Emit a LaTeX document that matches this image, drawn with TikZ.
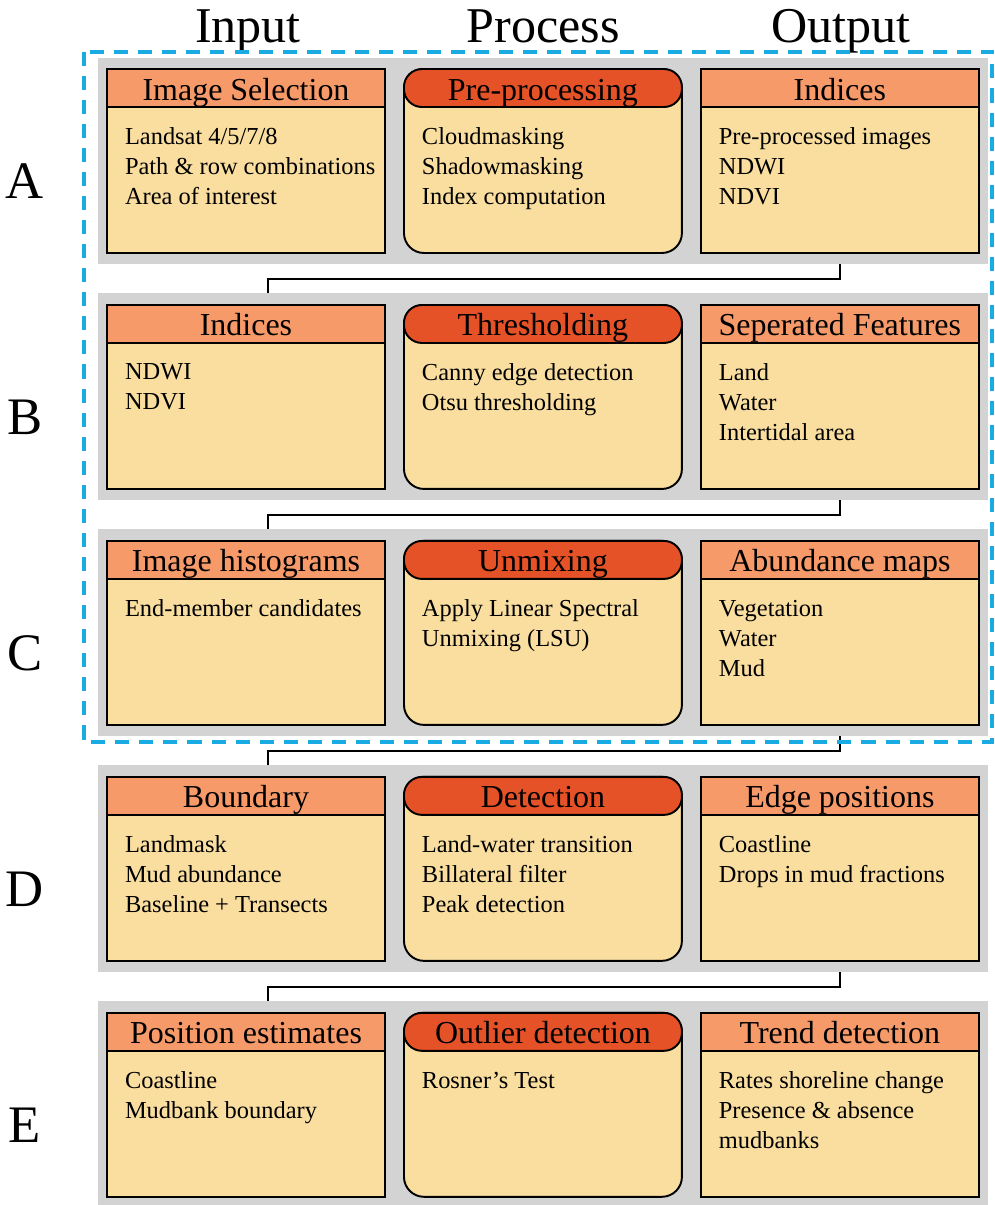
\documentclass[tikz,border=0pt]{standalone}
\usepackage{fontspec}
\setmainfont{Liberation Serif}
\usepackage{tikz}
\usetikzlibrary{positioning}
\usetikzlibrary{fit}
\usetikzlibrary{calc}
\usetikzlibrary{backgrounds}

\definecolor{panelgray}{HTML}{D3D3D3}
\definecolor{cardfill}{HTML}{F9DE9F}
\definecolor{headlight}{HTML}{F79A6A}
\definecolor{headdark}{HTML}{E65228}
\definecolor{frameblue}{HTML}{1AABE3}

\tikzset{
	card/.style={draw, line width=1.1pt, fill=cardfill, minimum width=5.56cm,
		minimum height=3.68cm, inner sep=0pt, outer sep=0pt},
	proccard/.style={card, rounded corners=0.4cm},
	head/.style={draw, line width=1.1pt, fill=headlight, minimum width=5.56cm,
		minimum height=0.76cm, inner sep=0pt, outer sep=0pt,
		text height=0.48cm, text depth=0pt,
		font=\fontsize{18.2pt}{22pt}\selectfont},
	prochead/.style={head, fill=headdark, rounded corners=0.36cm},
	items/.style={align=left, inner sep=0pt, outer sep=0pt,
		font=\fontsize{13.9pt}{17.07pt}\selectfont},
	panel/.style={fill=panelgray, inner xsep=0.18cm, inner ysep=0.23cm, outer sep=0pt},
	link/.style={line width=1pt},
	coltitle/.style={anchor=base, font=\fontsize{28.5pt}{34pt}\selectfont},
	rowtitle/.style={font=\fontsize{30pt}{36pt}\selectfont},
	bluebox/.style={frameblue, line width=2.3pt, dash pattern=on 8pt off 5.7pt}
}

\begin{document}
\begin{tikzpicture}[x=0.02cm, y=-0.02cm,
						node distance={1.04cm and 0.38cm}]
		\useasboundingbox (0,0) rectangle (995,1205);

		\node [coltitle] (input) at (248,42) {Input};
		\node [coltitle] (process) at (543,42) {Process};
		\node [coltitle] (output) at (841,42) {Output};

		\node [card] (inA) at (246,161) {};
		\node [proccard, right=of inA] (procA) {};
		\node [card, right=of procA] (outA) {};
		\node [card, below=of inA] (inB) {};
		\node [proccard, right=of inB] (procB) {};
		\node [card, right=of procB] (outB) {};
		\node [card, below=of inB] (inC) {};
		\node [proccard, right=of inC] (procC) {};
		\node [card, right=of procC] (outC) {};
		\node [card, below=of inC] (inD) {};
		\node [proccard, right=of inD] (procD) {};
		\node [card, right=of procD] (outD) {};
		\node [card, below=of inD] (inE) {};
		\node [proccard, right=of inE] (procE) {};
		\node [card, right=of procE] (outE) {};

		\node [head, below=0pt of inA.north] (inAhead) {Image Selection};
		\node [prochead, below=0pt of procA.north] (procAhead) {Pre-processing};
		\node [head, below=0pt of outA.north] (outAhead) {Indices};
		\node [head, below=0pt of inB.north] (inBhead) {Indices};
		\node [prochead, below=0pt of procB.north] (procBhead) {Thresholding};
		\node [head, below=0pt of outB.north] (outBhead) {Seperated Features};
		\node [head, below=0pt of inC.north] (inChead) {Image histograms};
		\node [prochead, below=0pt of procC.north] (procChead) {Unmixing};
		\node [head, below=0pt of outC.north] (outChead) {Abundance maps};
		\node [head, below=0pt of inD.north] (inDhead) {Boundary};
		\node [prochead, below=0pt of procD.north] (procDhead) {Detection};
		\node [head, below=0pt of outD.north] (outDhead) {Edge positions};
		\node [head, below=0pt of inE.north] (inEhead) {Position estimates};
		\node [prochead, below=0pt of procE.north] (procEhead) {Outlier detection};
		\node [head, below=0pt of outE.north] (outEhead) {Trend detection};

		\node [items, below right=1.18cm and 0.36cm of inA.north west] (inAtext)
			{Landsat 4/5/7/8\\Path \& row combinations\\Area of interest};
		\node [items, below right=1.18cm and 0.36cm of procA.north west] (procAtext)
			{Cloudmasking\\Shadowmasking\\Index computation};
		\node [items, below right=1.18cm and 0.36cm of outA.north west] (outAtext)
			{Pre-processed images\\NDWI\\NDVI};
		\node [items, below right=1.18cm and 0.36cm of inB.north west] (inBtext)
			{NDWI\\NDVI};
		\node [items, below right=1.18cm and 0.36cm of procB.north west] (procBtext)
			{Canny edge detection\\Otsu thresholding};
		\node [items, below right=1.18cm and 0.36cm of outB.north west] (outBtext)
			{Land\\Water\\Intertidal area};
		\node [items, below right=1.18cm and 0.36cm of inC.north west] (inCtext)
			{End-member candidates};
		\node [items, below right=1.18cm and 0.36cm of procC.north west] (procCtext)
			{Apply Linear Spectral\\Unmixing (LSU)};
		\node [items, below right=1.18cm and 0.36cm of outC.north west] (outCtext)
			{Vegetation\\Water\\Mud};
		\node [items, below right=1.18cm and 0.36cm of inD.north west] (inDtext)
			{Landmask\\Mud abundance\\Baseline + Transects};
		\node [items, below right=1.18cm and 0.36cm of procD.north west] (procDtext)
			{Land-water transition\\Billateral filter\\Peak detection};
		\node [items, below right=1.18cm and 0.36cm of outD.north west] (outDtext)
			{Coastline\\Drops in mud fractions};
		\node [items, below right=1.18cm and 0.36cm of inE.north west] (inEtext)
			{Coastline\\Mudbank boundary};
		\node [items, below right=1.18cm and 0.36cm of procE.north west] (procEtext)
			{Rosner's Test};
		\node [items, below right=1.18cm and 0.36cm of outE.north west] (outEtext)
			{Rates shoreline change\\Presence \& absence\\mudbanks};

		\begin{scope}[on background layer]
			\node [panel, fit=(inA) (outA)] (rowA) {};
			\node [panel, fit=(inB) (outB)] (rowB) {};
			\node [panel, fit=(inC) (outC)] (rowC) {};
			\node [panel, fit=(inD) (outD)] (rowD) {};
			\node [panel, fit=(inE) (outE)] (rowE) {};
		\end{scope}

		\node [rowtitle] (labelA) at (25,181) {A};
		\node [rowtitle] (labelB) at (25,417) {B};
		\node [rowtitle] (labelC) at (25,653) {C};
		\node [rowtitle] (labelD) at (25,889) {D};
		\node [rowtitle] (labelE) at (25,1125) {E};

		\draw [link] (outA.south |- rowA.south)
			|- ($(rowA.south)!0.5!(rowB.north)$)
			-| ($(inB.north |- rowB.north)+(22,0)$);
		\draw [link] (outB.south |- rowB.south)
			|- ($(rowB.south)!0.5!(rowC.north)$)
			-| ($(inC.north |- rowC.north)+(22,0)$);
		\draw [link] (outC.south |- rowC.south)
			|- ($(rowC.south)!0.5!(rowD.north)$)
			-| ($(inD.north |- rowD.north)+(22,0)$);
		\draw [link] (outD.south |- rowD.south)
			|- ($(rowD.south)!0.5!(rowE.north)$)
			-| ($(inE.north |- rowE.north)+(22,0)$);

		\draw [bluebox] ($(rowA.north west)+(-14,-6)$) rectangle ($(rowC.south east)+(4,6)$);
	\end{tikzpicture}
\end{document}
